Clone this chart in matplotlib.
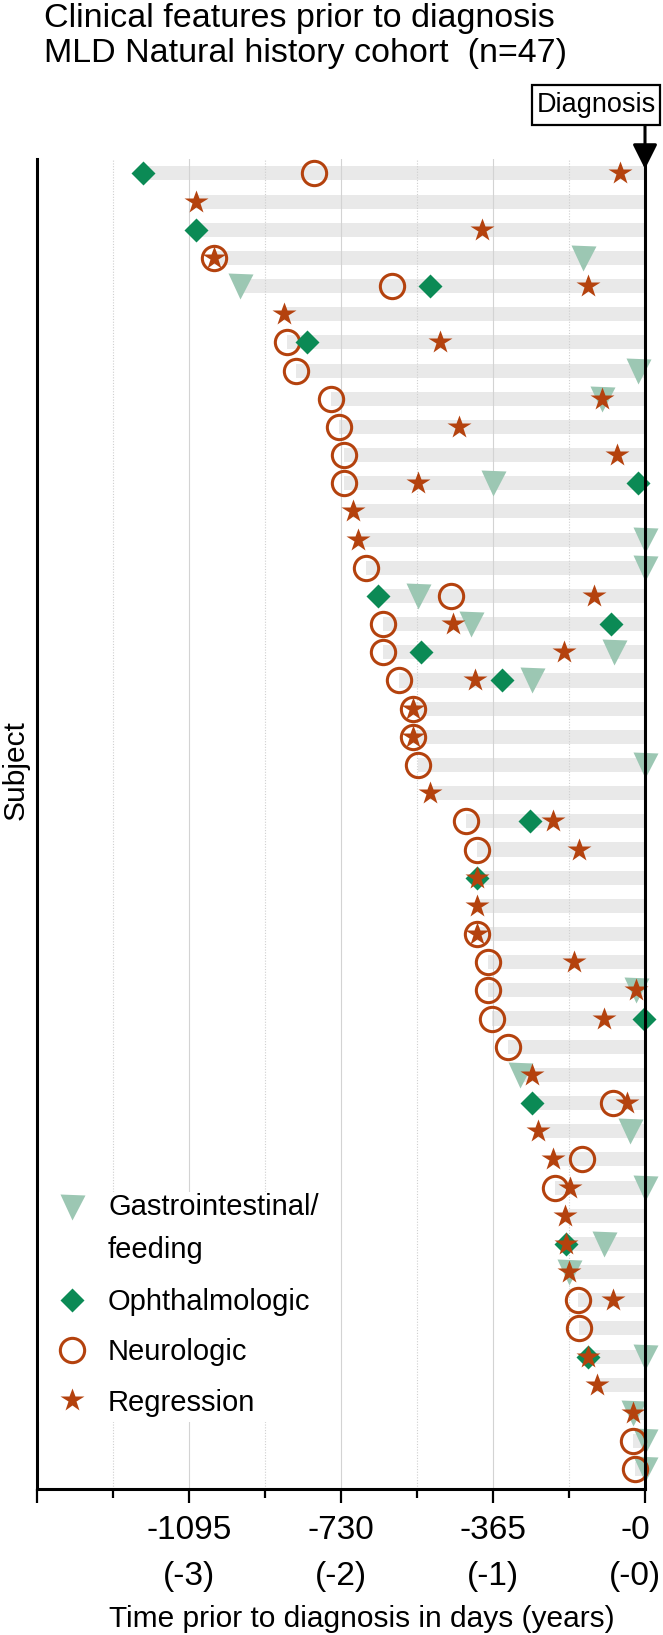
import matplotlib
matplotlib.use("Agg")
import matplotlib.pyplot as plt
from matplotlib.lines import Line2D
from matplotlib.patches import Rectangle
from matplotlib.transforms import ScaledTranslation

plt.rcParams['font.family'] = ['Liberation Sans', 'DejaVu Sans']

# ---------------- data (days prior to diagnosis, subject row 1..47) ----------------
n_subjects = 47

gi_subject = [4, 5, 8, 9, 12, 14, 15, 16, 17, 18, 19, 22, 30, 33, 35, 37, 39, 40, 43, 45, 46, 47]
gi_days = [-150, -972, -17, -104, -366, 0, 0, -546, -417, -74, -272, 0, -21, -300, -37, 0, -99,
           -182, 0, -28, 0, 0]

oph_subject = [1, 3, 5, 7, 12, 16, 17, 18, 19, 24, 26, 31, 34, 39, 43]
oph_days = [-1205, -1078, -516, -811, -17, -640, -81, -538, -344, -275, -404, -3, -272, -189, -136]

neuro_subject = [1, 4, 5, 7, 8, 9, 10, 11, 12, 15, 16, 17, 18, 19, 20, 21, 22, 24, 25, 28, 29, 30,
                 31, 32, 34, 36, 37, 41, 42, 46, 47]
neuro_days = [-794, -1034, -608, -859, -838, -753, -735, -723, -723, -670, -465, -629, -629, -590,
              -556, -556, -546, -429, -403, -404, -378, -378, -367, -330, -76, -152, -216, -161,
              -159, -30, -25]

reg_subject = [1, 2, 3, 4, 5, 6, 7, 9, 10, 11, 12, 13, 14, 16, 17, 18, 19, 20, 21, 23, 24, 25, 26,
               27, 28, 29, 30, 31, 33, 34, 35, 36, 37, 38, 39, 40, 41, 43, 44, 45]
reg_days = [-60, -1078, -392, -1034, -138, -866, -493, -104, -447, -67, -544, -700, -688, -123,
            -461, -195, -407, -556, -556, -516, -221, -158, -404, -404, -404, -170, -21, -99, -272,
            -43, -256, -221, -180, -191, -189, -182, -76, -136, -115, -28]

major_ticks = [-1460, -1095, -730, -365, 0]
major_labels = ['', '-1095\n(-3)', '-730\n(-2)', '-365\n(-1)', '-0\n(-0)']
minor_ticks = [-1277.5, -912.5, -547.5, -182.5]

legend_labels = ['Gastrointestinal/\nfeeding', 'Ophthalmologic', 'Neurologic', 'Regression']

# ---------------- style ----------------
C_GI = '#9cc7b3'
C_OPH = '#0b8a55'
C_RUST = '#b4420e'
C_BAR = '#e9e9e9'

W, H = 663, 1635
fig = plt.figure(figsize=(W / 100, H / 100), dpi=100)


def fx(x):
    return x / W


def fy(y):
    return 1 - y / H


ax_left, ax_right, ax_top, ax_bot = 36.8, 645.0, 159.3, 1489.0
ax = fig.add_axes([fx(ax_left), fy(ax_bot), (ax_right - ax_left) / W, (ax_bot - ax_top) / H])

# bars: from the earliest event of each subject to diagnosis
first_event = {}
for subs, days in [(gi_subject, gi_days), (oph_subject, oph_days),
                   (neuro_subject, neuro_days), (reg_subject, reg_days)]:
    for s, d in zip(subs, days):
        first_event[s] = min(first_event.get(s, 0), d)
bar_subj = sorted(first_event)
bar_start = [first_event[s] for s in bar_subj]
ax.barh(bar_subj, [-b for b in bar_start], left=bar_start, height=0.5, color=C_BAR,
        zorder=1, linewidth=0)

# grid lines
for t in major_ticks[1:-1]:
    ax.axvline(t, color='#d3d3d3', lw=0.8, zorder=1.5)
for t in minor_ticks:
    ax.axvline(t, color='#cfcfcf', lw=0.8, ls=(0, (1, 1.5)), zorder=1.5)

# markers
ax.plot(gi_days, gi_subject, ls='none', marker='v', ms=18, color=C_GI, mec='none',
        zorder=3, clip_on=False)
ax.plot(neuro_days, neuro_subject, ls='none', marker='o', ms=17.5, mfc='none', mec=C_RUST,
        mew=2.2, zorder=4, clip_on=False)
ax.plot(oph_days, oph_subject, ls='none', marker='D', ms=12.3, color=C_OPH, mec='none',
        zorder=5, clip_on=False)
ax.plot(reg_days, reg_subject, ls='none', marker='*', ms=17.5, color=C_RUST, mec='none',
        zorder=6, clip_on=False)

ax.set_xlim(-1460, 0)
ax.set_ylim(47.7, 0.5)

for side in ['left', 'bottom', 'right']:
    ax.spines[side].set_linewidth(2.2)
    ax.spines[side].set_color('black')
ax.spines['top'].set_visible(False)
ax.spines['right'].set_zorder(7)
ax.set_yticks([])

ax.set_xticks(major_ticks)
ax.set_xticklabels(major_labels, fontsize=24, linespacing=1.65)
ax.set_xticks(minor_ticks, minor=True)
ax.tick_params(axis='x', which='major', length=10, width=1.6, pad=8.5, direction='out')
ax.tick_params(axis='x', which='minor', length=6.5, width=1.6, direction='out')
last_lab = ax.get_xticklabels()[-1]
last_lab.set_transform(last_lab.get_transform() +
                       ScaledTranslation(-10 / 100, 0, fig.dpi_scale_trans))

ax.set_xlabel('Time prior to diagnosis in days (years)', fontsize=21.5)
ax.xaxis.label.set_va('baseline')
ax.xaxis.set_label_coords((362 - ax_left) / (ax_right - ax_left),
                          -(1627 - ax_bot) / (ax_bot - ax_top))

fig.text(fx(16), fy(770), 'Subject', rotation=90, fontsize=21.5, ha='center', va='center')

# title
fig.text(fx(44), fy(26.7), 'Clinical features prior to diagnosis', fontsize=24.5,
         ha='left', va='baseline')
fig.text(fx(44), fy(61.7), 'MLD Natural history cohort  (n=47)', fontsize=24.5,
         ha='left', va='baseline')

# diagnosis box + arrow
fig.add_artist(Rectangle((fx(532), fy(125)), 128 / W, 40 / H, transform=fig.transFigure,
                         facecolor='white', edgecolor='black', lw=1.6))
fig.text(fx(596), fy(105.5), 'Diagnosis', fontsize=19.5, ha='center', va='center')
ax.annotate('', xy=(ax_right, H - 169), xytext=(ax_right, H - 125),
            xycoords='figure pixels', textcoords='figure pixels',
            arrowprops=dict(arrowstyle='-|>,head_length=0.5,head_width=0.25', lw=2.2,
                            color='black', mutation_scale=30, shrinkA=0, shrinkB=0))

# legend (manual, white background)
fig.add_artist(Rectangle((fx(39), fy(1422)), (300 - 39) / W, (1422 - 1192) / H,
                         transform=fig.transFigure, facecolor='white', edgecolor='none',
                         zorder=2))
leg_y = [1207, 1300, 1350, 1400]
leg_base = [1258, 1310, 1360, 1410.5]
leg_style = [dict(marker='v', ms=18, color=C_GI, mec='none'),
             dict(marker='D', ms=12.3, color=C_OPH, mec='none'),
             dict(marker='o', ms=17.5, mfc='none', mec=C_RUST, mew=2.2),
             dict(marker='*', ms=17.5, color=C_RUST, mec='none')]
for yy, yb, st, lab in zip(leg_y, leg_base, leg_style, legend_labels):
    fig.add_artist(Line2D([fx(71.5)], [fy(yy)], transform=fig.transFigure, ls='none',
                          zorder=3, **st))
    fig.text(fx(108), fy(yb), lab, fontsize=21, ha='left', va='baseline',
             linespacing=1.7, zorder=3)

fig.savefig('out.png', dpi=100)
